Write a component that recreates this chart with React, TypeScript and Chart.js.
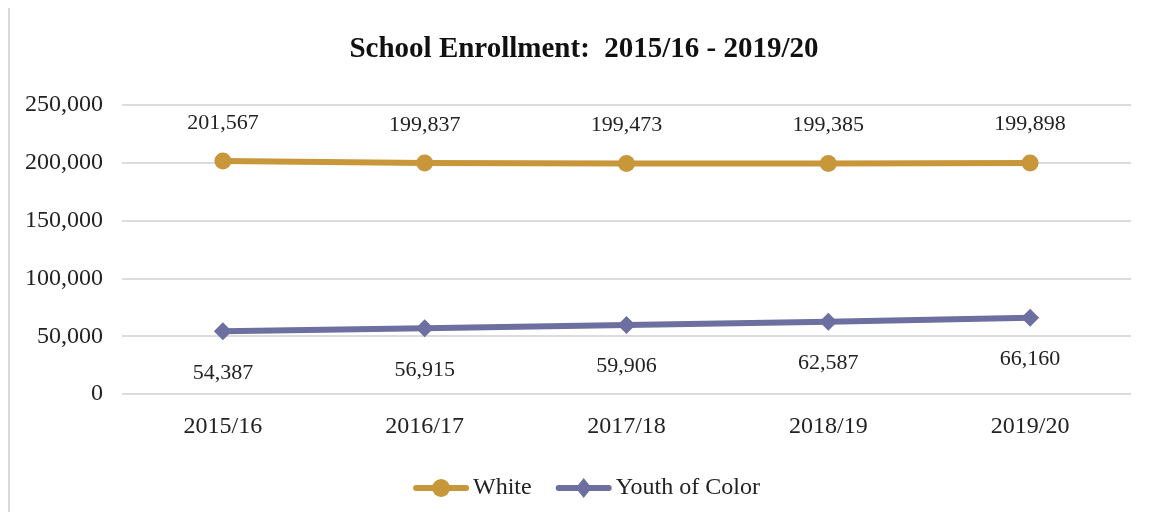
import { useEffect, useRef } from 'react';
import { Chart, registerables } from 'chart.js';

Chart.register(...registerables);

const FONT = '"Liberation Serif", "Times New Roman", serif';

const categories = ['2015/16', '2016/17', '2017/18', '2018/19', '2019/20'];
const whiteValues = [201567, 199837, 199473, 199385, 199898];
const youthValues = [54387, 56915, 59906, 62587, 66160];
const seriesNames = ['White', 'Youth of Color'];
const seriesColors = ['#C8973A', '#6C6F9F'];
const yMin = 0;
const yMax = 250000;
const yStep = 50000;
const titleText = 'School Enrollment:  2015/16 - 2019/20';

const fmt = (v: number) => Number(v).toLocaleString('en-US');

const titlePlugin = {
  id: 'customTitle',
  afterDraw(chart: any) {
    const ctx = chart.ctx;
    ctx.save();
    ctx.font = `bold 29px ${FONT}`;
    ctx.fillStyle = '#111';
    ctx.textAlign = 'center';
    ctx.textBaseline = 'middle';
    ctx.fillText(titleText, 574, 42);
    ctx.restore();
  },
};

const dataLabelPlugin = {
  id: 'dataLabels',
  afterDatasetsDraw(chart: any) {
    const ctx = chart.ctx;
    ctx.save();
    ctx.font = `22px ${FONT}`;
    ctx.fillStyle = '#222';
    ctx.textAlign = 'center';
    ctx.textBaseline = 'alphabetic';
    chart.data.datasets.forEach((ds: any, i: number) => {
      const meta = chart.getDatasetMeta(i);
      meta.data.forEach((pt: any, j: number) => {
        const text = fmt(ds.data[j]);
        const y = i === 0 ? pt.y - 32.5 : pt.y + 47.5;
        ctx.fillText(text, pt.x, y);
      });
    });
    ctx.restore();
  },
};

const legendPlugin = {
  id: 'customLegend',
  afterDraw(chart: any) {
    const ctx = chart.ctx;
    ctx.save();
    ctx.font = `24px ${FONT}`;
    const lineLen = 50;
    const gapText = 7;
    const gapItems = 27;
    const widths = seriesNames.map((n) => ctx.measureText(n).width);
    const total = widths.reduce((a, w) => a + lineLen + gapText + w, 0) + gapItems * (seriesNames.length - 1);
    const cx = 578;
    const cy = 480;
    let x = cx - total / 2;
    seriesNames.forEach((name, i) => {
      const color = seriesColors[i];
      ctx.strokeStyle = color;
      ctx.lineWidth = 6;
      ctx.lineCap = 'round';
      ctx.beginPath();
      ctx.moveTo(x, cy);
      ctx.lineTo(x + lineLen, cy);
      ctx.stroke();
      ctx.fillStyle = color;
      const mx = x + lineLen / 2;
      ctx.beginPath();
      if (i === 0) {
        ctx.arc(mx, cy, 9, 0, Math.PI * 2);
      } else {
        ctx.moveTo(mx, cy - 10);
        ctx.lineTo(mx + 8, cy);
        ctx.lineTo(mx, cy + 10);
        ctx.lineTo(mx - 8, cy);
        ctx.closePath();
      }
      ctx.fill();
      ctx.fillStyle = '#222';
      ctx.textAlign = 'left';
      ctx.textBaseline = 'middle';
      ctx.fillText(name, x + lineLen + gapText, cy);
      x += lineLen + gapText + widths[i] + gapItems;
    });
    ctx.restore();
  },
};

export default function App() {
  const ref = useRef<HTMLCanvasElement | null>(null);

  useEffect(() => {
    if (!ref.current) return;
    const chart = new Chart(ref.current, {
      type: 'line',
      data: {
        labels: categories,
        datasets: [
          {
            label: seriesNames[0],
            data: whiteValues,
            borderColor: seriesColors[0],
            backgroundColor: seriesColors[0],
            borderWidth: 6,
            pointStyle: 'circle',
            pointRadius: 8.5,
            pointBorderWidth: 0,
            tension: 0,
          },
          {
            label: seriesNames[1],
            data: youthValues,
            borderColor: seriesColors[1],
            backgroundColor: seriesColors[1],
            borderWidth: 6,
            pointStyle: 'rectRot',
            pointRadius: 9,
            pointBorderWidth: 0,
            tension: 0,
          },
        ],
      },
      options: {
        responsive: false,
        animation: false,
        layout: { padding: { left: 0, right: 7, top: 97, bottom: 53 } },
        plugins: {
          legend: { display: false },
          tooltip: { enabled: false },
          title: { display: false },
        },
        scales: {
          x: {
            offset: true,
            grid: { display: false, drawTicks: false },
            border: { display: false },
            ticks: { color: '#222', font: { family: FONT, size: 24 }, padding: 18 },
          },
          y: {
            min: yMin,
            max: yMax,
            afterFit: (s: any) => {
              s.width = 112;
            },
            grid: { color: '#dcdcdc', lineWidth: 2, drawTicks: false },
            border: { display: false },
            ticks: {
              stepSize: yStep,
              color: '#222',
              padding: 19,
              font: { family: FONT, size: 24 },
              callback: (v: any) => fmt(v),
            },
          },
        },
      },
      plugins: [dataLabelPlugin, legendPlugin, titlePlugin],
    });
    return () => chart.destroy();
  }, []);

  return (
    <div
      style={{
        marginTop: -2,
        borderLeft: '2px solid #d9d9d9',
        borderTop: '2px solid #d9d9d9',
        width: 1130,
        height: 504,
      }}
    >
      <canvas ref={ref} width={1130} height={504} style={{ display: 'block' }} />
    </div>
  );
}
